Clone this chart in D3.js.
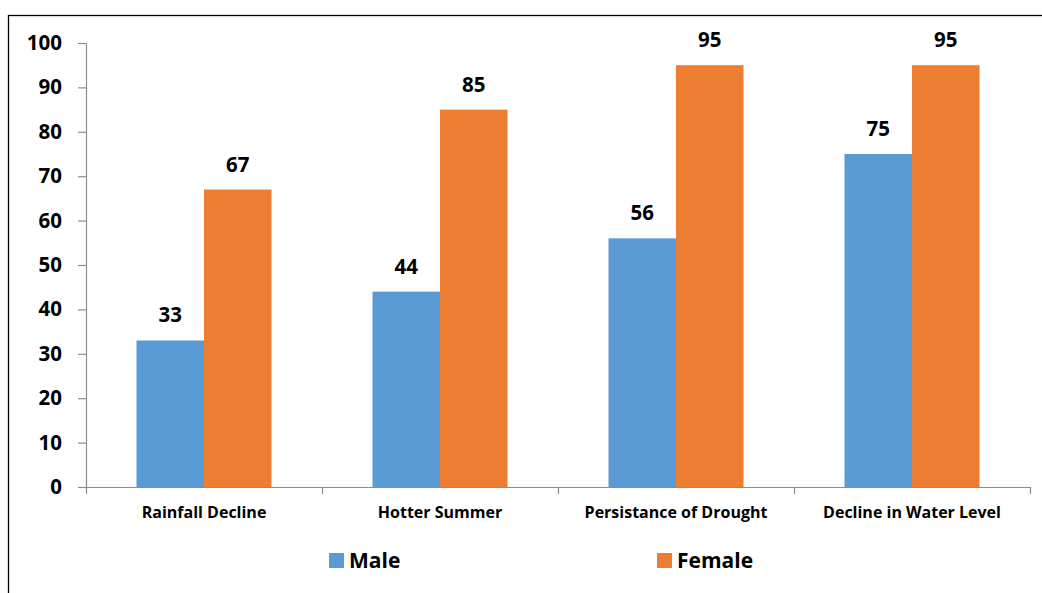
<!DOCTYPE html>
<html lang="en">
  <head>
    <meta charset="utf-8" />
    <script src="https://cdn.jsdelivr.net/npm/d3@7/dist/d3.min.js"></script>
    <style>
      body { margin: 0; background: #fff; }
      svg text { font-family: "Open Sans", sans-serif; font-weight: 700; fill: #000; }
    </style>
  </head>
  <body>
    <div id="container"></div>
    <script>
      const width = 1042;
      const height = 593;

      const categories = ["Rainfall Decline", "Hotter Summer", "Persistance of Drought", "Decline in Water Level"];
      const seriesNames = ["Male", "Female"];
      const male = [33, 44, 56, 75];
      const female = [67, 85, 95, 95];
      const yTicks = [0, 10, 20, 30, 40, 50, 60, 70, 80, 90, 100];
      const colors = ["#5b9bd5", "#ed7d31"];

      const rows = categories.map((c, i) => ({ cat: c, vals: [male[i], female[i]] }));

      const svg = d3.select("#container").append("svg").attr("width", width).attr("height", height);

      // outer frame (runs off right and bottom)
      svg.append("rect").attr("x", 8.5).attr("y", 15.5).attr("width", 1200).attr("height", 800)
        .attr("fill", "none").attr("stroke", "#000").attr("stroke-width", 1.3);

      const x = d3.scaleBand().domain(categories).range([86, 1030]).paddingInner(0).paddingOuter(0);
      const y = d3.scaleLinear().domain([0, 100]).range([487, 43]);
      const barW = x.bandwidth() * 0.286;
      const xs = d3.scaleBand().domain(seriesNames).range([0, barW * 2]);

      // y axis
      const yAxis = svg.append("g").attr("transform", "translate(86,0)")
        .call(d3.axisLeft(y).tickValues(yTicks).tickSize(8).tickPadding(16));
      yAxis.selectAll("path, line").attr("stroke", "#8c8c8c").attr("stroke-width", 1.2);
      yAxis.selectAll("text").style("font-size", "20.5px").attr("fill", "#000");
      yAxis.select(".domain").attr("d", "M-8,43.5H0.5V487.5");

      // x axis
      const xAxis = svg.append("g").attr("transform", "translate(0,487)")
        .call(d3.axisBottom(x).tickSize(0).tickPadding(20));
      xAxis.select(".domain").attr("stroke", "#8c8c8c").attr("stroke-width", 1.2).attr("d", "M86,0.5H1030");
      xAxis.selectAll("text").style("font-size", "16px").attr("fill", "#000");
      svg.append("g").selectAll("line").data([86, ...categories.map(c => x(c) + x.bandwidth())])
        .join("line")
        .attr("x1", d => d + 0.5).attr("x2", d => d + 0.5)
        .attr("y1", 487).attr("y2", 494)
        .attr("stroke", "#8c8c8c").attr("stroke-width", 1.2);

      // bars
      const groups = svg.append("g").selectAll("g").data(rows).join("g")
        .attr("transform", d => `translate(${x(d.cat) + x.bandwidth() / 2 - barW},0)`);
      groups.selectAll("rect").data(d => d.vals.map((v, i) => ({ v, s: seriesNames[i], i })))
        .join("rect")
        .attr("x", d => xs(d.s))
        .attr("y", d => y(d.v))
        .attr("width", xs.bandwidth())
        .attr("height", d => y(0) - y(d.v))
        .attr("fill", d => colors[d.i]);
      groups.selectAll("text").data(d => d.vals.map((v, i) => ({ v, s: seriesNames[i] })))
        .join("text")
        .attr("x", d => xs(d.s) + xs.bandwidth() / 2)
        .attr("y", d => y(d.v) - 18)
        .attr("text-anchor", "middle")
        .style("font-size", "20.5px")
        .text(d => d.v);

      // legend
      const legendX = [329, 657];
      const legend = svg.append("g").selectAll("g").data(seriesNames).join("g")
        .attr("transform", (d, i) => `translate(${legendX[i]},553)`);
      legend.append("rect").attr("width", 15).attr("height", 15).attr("fill", (d, i) => colors[i]);
      legend.append("text").attr("x", 20).attr("y", 14.5).style("font-size", "21px").text(d => d);
    </script>
  </body>
</html>
